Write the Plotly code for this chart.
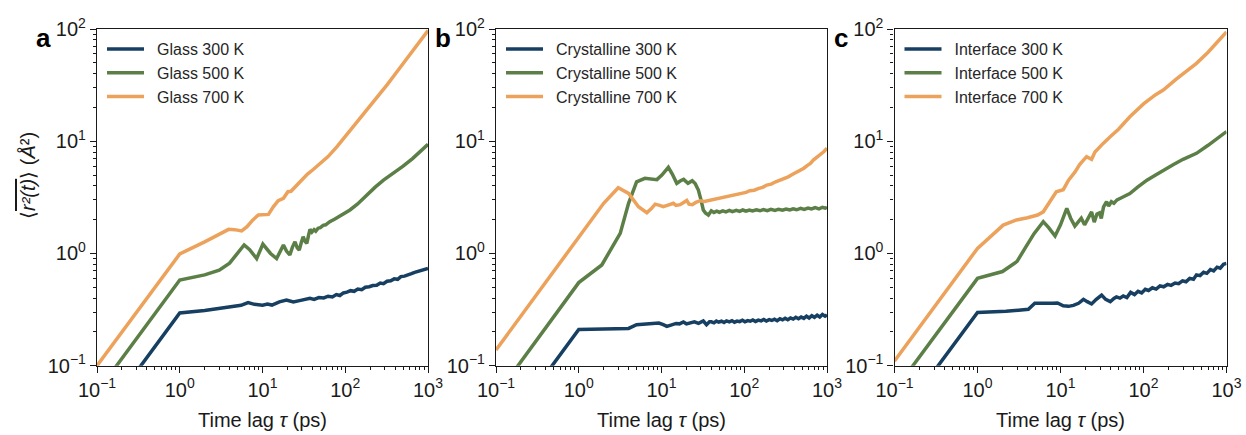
import plotly.graph_objects as go

# Mean squared displacement vs time lag, (time lag in ps, MSD in Å^2)
glass_300 = [(0.1, 0.0295), (1, 0.295), (2, 0.31), (3, 0.322), (4.4, 0.335), (5.5, 0.345), (6.7, 0.365),
             (8, 0.352), (10, 0.346), (11.5, 0.354), (13, 0.347), (16, 0.37), (19.5, 0.385), (23.6, 0.37),
             (28, 0.38), (33, 0.39), (37.5, 0.398), (42, 0.39), (48, 0.405), (55, 0.402), (62, 0.416),
             (70, 0.41), (78, 0.43), (86, 0.422), (95, 0.445), (105, 0.452), (116, 0.466), (128, 0.46),
             (142, 0.482), (158, 0.476), (175, 0.5), (195, 0.506), (215, 0.518), (240, 0.52), (265, 0.545),
             (290, 0.538), (320, 0.566), (355, 0.572), (390, 0.594), (430, 0.588), (470, 0.622), (520, 0.628),
             (570, 0.648), (630, 0.66), (690, 0.678), (760, 0.692), (830, 0.704), (910, 0.722), (1000, 0.735)]
glass_500 = [(0.1, 0.058), (1, 0.58), (2, 0.645), (3, 0.71), (4, 0.82), (5, 1.02), (6, 1.19), (7, 1.08),
             (8.5, 0.9), (10.1, 1.21), (12.5, 1.0), (14.8, 0.9), (16.5, 1.08), (17.9, 1.19), (19.5, 1.05),
             (21.4, 0.97), (23, 1.14), (24.7, 1.27), (26.3, 1.12), (27.8, 1.07), (29.5, 1.26), (31, 1.41),
             (32.7, 1.28), (34.3, 1.23), (36, 1.45), (37.5, 1.64), (39.5, 1.55), (42, 1.63), (44, 1.58),
             (47, 1.68), (50, 1.7), (54, 1.78), (58, 1.8), (65, 1.92), (75, 2.03), (90, 2.2), (114, 2.44),
             (140, 2.75), (158, 2.99), (181, 3.35), (230, 3.9), (290, 4.5), (380, 5.18), (500, 6.0),
             (650, 7.0), (800, 8.05), (1000, 9.4)]
glass_700 = [(0.1, 0.1), (1, 0.99), (2, 1.27), (3, 1.5), (3.9, 1.64), (4.6, 1.63), (5.6, 1.59), (6.5, 1.73),
             (7.6, 1.98), (8.9, 2.2), (10.5, 2.22), (11.8, 2.23), (13.5, 2.6), (15.5, 2.95), (17.9, 3.1),
             (20.3, 3.55), (22.1, 3.58), (25, 3.95), (29.8, 4.5), (35, 5.1), (41, 5.6), (50, 6.4), (62, 7.3),
             (80, 9.0), (100, 11.0), (130, 13.8), (160, 16.6), (200, 20.5), (250, 25.2), (320, 31.8),
             (400, 39.5), (500, 49), (630, 61), (800, 77), (1000, 97)]

crystal_300 = [(0.1, 0.021), (1, 0.21), (2, 0.212), (4, 0.215), (5, 0.232), (6.5, 0.235), (8, 0.236),
               (9.3, 0.24), (10.5, 0.232), (11.6, 0.224), (13, 0.23), (15, 0.238), (16.5, 0.236), (18.4, 0.245),
               (20, 0.236), (22, 0.24), (25, 0.246), (28, 0.238), (32, 0.25), (35, 0.232), (38, 0.246),
               (40, 0.246), (43, 0.241), (46, 0.25), (49, 0.244), (53, 0.249), (57, 0.243), (61, 0.251),
               (66, 0.246), (71, 0.252), (76, 0.244), (82, 0.25), (88, 0.247), (95, 0.254), (102, 0.246),
               (110, 0.252), (118, 0.249), (127, 0.256), (137, 0.248), (148, 0.255), (160, 0.251), (172, 0.258),
               (185, 0.25), (200, 0.257), (215, 0.253), (232, 0.26), (250, 0.252), (270, 0.262), (290, 0.256),
               (312, 0.265), (336, 0.257), (362, 0.266), (390, 0.26), (420, 0.27), (452, 0.262), (487, 0.272),
               (525, 0.264), (565, 0.276), (608, 0.266), (655, 0.279), (705, 0.27), (760, 0.282), (818, 0.272),
               (880, 0.286), (948, 0.276), (1000, 0.284)]
crystal_500 = [(0.1, 0.054), (1, 0.55), (1.9, 0.79), (2.4, 1.07), (3.17, 1.51), (4, 2.8), (5, 4.35),
               (6.3, 4.67), (7.5, 4.6), (8.8, 4.55), (10.1, 5.0), (12.1, 5.85), (13.5, 5.1), (15.3, 4.22),
               (17, 4.45), (18.5, 4.57), (20.9, 4.22), (23.5, 4.45), (25.5, 4.2), (27.9, 3.67), (30, 3.0),
               (32, 2.44), (34, 2.3), (36.9, 2.2), (40, 2.4), (43, 2.32), (46.5, 2.38), (50, 2.33), (55, 2.4),
               (60, 2.35), (66, 2.42), (72, 2.36), (80, 2.42), (88, 2.37), (96, 2.44), (105, 2.38),
               (115, 2.44), (126, 2.39), (140, 2.45), (155, 2.4), (170, 2.46), (190, 2.41), (210, 2.47),
               (235, 2.42), (260, 2.48), (290, 2.43), (320, 2.49), (355, 2.44), (390, 2.5), (430, 2.45),
               (480, 2.52), (530, 2.47), (590, 2.54), (650, 2.49), (720, 2.56), (800, 2.5), (880, 2.58),
               (950, 2.53), (1000, 2.58)]
crystal_700 = [(0.1, 0.138), (1, 1.38), (2, 2.8), (3, 3.85), (4, 3.43), (5.27, 2.61), (6.65, 2.31),
               (7.5, 2.5), (8.38, 2.75), (9.5, 2.68), (10.5, 2.61), (12, 2.7), (13.9, 2.8), (15, 2.68),
               (16.8, 2.72), (18.5, 2.85), (20.2, 2.97), (21.5, 2.75), (23.5, 2.72), (26, 2.85), (29.3, 2.95),
               (33, 2.9), (38.7, 2.97), (46.5, 3.1), (53, 3.12), (60, 3.2), (67, 3.24), (74, 3.31), (84, 3.36),
               (95, 3.45), (105, 3.5), (117, 3.62), (132, 3.66), (150, 3.8), (167, 3.88), (187, 4.07),
               (212, 4.15), (240, 4.35), (270, 4.48), (297, 4.67), (340, 4.82), (380, 5.05), (425, 5.25),
               (472, 5.53), (525, 5.75), (580, 6.1), (630, 6.35), (683, 6.8), (760, 7.2), (840, 7.7),
               (920, 8.1), (1000, 8.65)]

iface_300 = [(0.1, 0.0298), (1, 0.298), (2.2, 0.305), (4.1, 0.318), (4.9, 0.36), (6.5, 0.358), (8, 0.36),
             (9.2, 0.362), (10.8, 0.342), (12.5, 0.338), (14.3, 0.345), (16.5, 0.36), (18.9, 0.39),
             (21, 0.372), (23.7, 0.355), (27, 0.39), (31.3, 0.426), (35, 0.39), (39.8, 0.372), (44, 0.398),
             (47.2, 0.41), (52, 0.4), (57, 0.418), (63, 0.405), (70, 0.45), (78, 0.43), (86, 0.46),
             (95, 0.445), (105, 0.48), (115, 0.468), (128, 0.495), (142, 0.482), (158, 0.515), (175, 0.505),
             (195, 0.53), (215, 0.52), (240, 0.545), (265, 0.538), (295, 0.57), (325, 0.56), (360, 0.6),
             (400, 0.59), (435, 0.645), (480, 0.635), (530, 0.68), (580, 0.665), (640, 0.72), (700, 0.7),
             (770, 0.755), (840, 0.74), (920, 0.8), (1000, 0.815)]
iface_500 = [(0.1, 0.06), (1, 0.6), (2, 0.69), (3, 0.85), (3.73, 1.11), (4.8, 1.5), (6.2, 1.92), (7.2, 1.7),
             (8.6, 1.43), (10, 1.8), (11.9, 2.52), (13.3, 2.05), (14.9, 1.75), (16.3, 1.9), (17.8, 2.06),
             (19.5, 1.8), (21.5, 2.1), (23.7, 2.35), (25.5, 1.9), (27.5, 2.25), (29.5, 2.3), (31, 2.05),
             (33, 2.6), (35.9, 2.89), (38, 2.65), (41, 2.89), (44, 2.8), (48, 3.0), (55, 3.15), (68.5, 3.42),
             (85, 3.9), (110, 4.5), (140, 5.0), (173, 5.53), (230, 6.2), (300, 6.9), (435, 7.8), (600, 9.2),
             (800, 10.7), (1000, 12.2)]
iface_700 = [(0.1, 0.11), (1, 1.11), (2.04, 1.79), (2.95, 1.99), (4, 2.08), (5.3, 2.2), (6.2, 2.35),
             (7.2, 2.8), (8.9, 3.55), (10.8, 3.7), (12.5, 4.5), (14.9, 5.3), (17, 6.2), (20.6, 7.28),
             (23.7, 6.9), (26, 8.0), (29, 8.8), (32.7, 9.57), (40, 11.0), (50, 12.8), (68.5, 16.5),
             (100, 21.5), (140, 26), (173, 28.6), (250, 36), (330, 42.5), (435, 49.4), (600, 62), (800, 78),
             (1000, 94)]

panels = [
    ("a", "Glass", [glass_300, glass_500, glass_700]),
    ("b", "Crystalline", [crystal_300, crystal_500, crystal_700]),
    ("c", "Interface", [iface_300, iface_500, iface_700]),
]
temperatures = ["300 K", "500 K", "700 K"]
colors = ["#173f61", "#5b7f46", "#eca25b"]

x_tickvals = [0.1, 1, 10, 100, 1000]
x_ticktext = ["10<sup>\u22121</sup>", "10<sup>0</sup>", "10<sup>1</sup>", "10<sup>2</sup>", "10<sup>3</sup>"]
y_tickvals = [0.1, 1, 10, 100]
y_ticktext = ["10<sup>\u22121</sup>", "10<sup>0</sup>", "10<sup>1</sup>", "10<sup>2</sup>"]
x_minor = [m * 10.0 ** d for d in range(-1, 3) for m in range(2, 10)]
y_minor = [m * 10.0 ** d for d in range(-1, 2) for m in range(2, 10)]

W, H = 1246, 435
x_domains = [(97 / W, 428 / W), (496 / W, 827 / W), (894.5 / W, 1226.5 / W)]
y_domain = (1 - 365.7 / H, 1 - 29 / H)

FONT = "Liberation Sans, Arial, sans-serif"
INK = "#1a1a1a"

fig = go.Figure()
for i, (letter, name, series) in enumerate(panels):
    sfx = "" if i == 0 else str(i + 1)
    legend_id = "legend" + sfx
    for data, temp, col in zip(series, temperatures, colors):
        t, msd = zip(*data)
        fig.add_trace(go.Scatter(
            x=list(t), y=list(msd), mode="lines", name=f"\u2002{name} {temp}",
            line=dict(color=col, width=3.5), xaxis="x" + sfx, yaxis="y" + sfx,
            legend=legend_id, showlegend=True))

    axis_common = dict(
        type="log", ticks="outside", ticklen=6, tickwidth=1, tickcolor=INK,
        showline=True, linecolor=INK, linewidth=1.2, mirror=True, automargin=False,
        showgrid=False, zeroline=False, tickmode="array",
        tickfont=dict(family=FONT, size=20, color=INK),
    )
    fig.layout["xaxis" + sfx] = dict(
        axis_common, domain=x_domains[i], anchor="y" + sfx, range=[-1, 3],
        tickvals=x_tickvals, ticktext=x_ticktext,
        minor=dict(tickmode="array", tickvals=x_minor, ticks="outside", ticklen=3,
                   tickwidth=1, tickcolor=INK, showgrid=False),
        title=dict(text="Time lag <i>\u03c4</i> (ps)", font=dict(family=FONT, size=20, color=INK), standoff=13),
    )
    fig.layout["yaxis" + sfx] = dict(
        axis_common, domain=y_domain, anchor="x" + sfx, range=[-1, 2],
        tickvals=y_tickvals, ticktext=y_ticktext,
        minor=dict(tickmode="array", tickvals=y_minor, ticks="outside", ticklen=3,
                   tickwidth=1, tickcolor=INK, showgrid=False),
    )
    fig.layout[legend_id] = dict(
        x=x_domains[i][0] + 5 / W, y=1 - 32 / H, xanchor="left", yanchor="top",
        bgcolor="rgba(0,0,0,0)", font=dict(family=FONT, size=16, color="#262626"),
        tracegroupgap=0, itemwidth=37,
    )
    fig.add_annotation(
        text=f"<b>{letter}</b>", xref="paper", yref="paper",
        x=x_domains[i][0] - 63 / W, y=1 - 38 / H, xanchor="left", yanchor="middle",
        showarrow=False, font=dict(family=FONT, size=26, color="black"))

# y-axis title of the first panel
fig.add_annotation(
    text="\u27e8<span style='font-style:italic;text-decoration:overline'>r\u00b2(t)</span>\u27e9 "
         "(<i>\u00c5</i>\u00b2)",
    xref="paper", yref="paper", x=28 / W, y=1 - 176 / H, xanchor="center", yanchor="middle",
    textangle=-90, showarrow=False, font=dict(family=FONT, size=20, color=INK))

fig.update_layout(
    width=W, height=H, margin=dict(l=0, r=0, t=0, b=0, autoexpand=False),
    paper_bgcolor="white", plot_bgcolor="white",
)

fig.write_html("out.html")
